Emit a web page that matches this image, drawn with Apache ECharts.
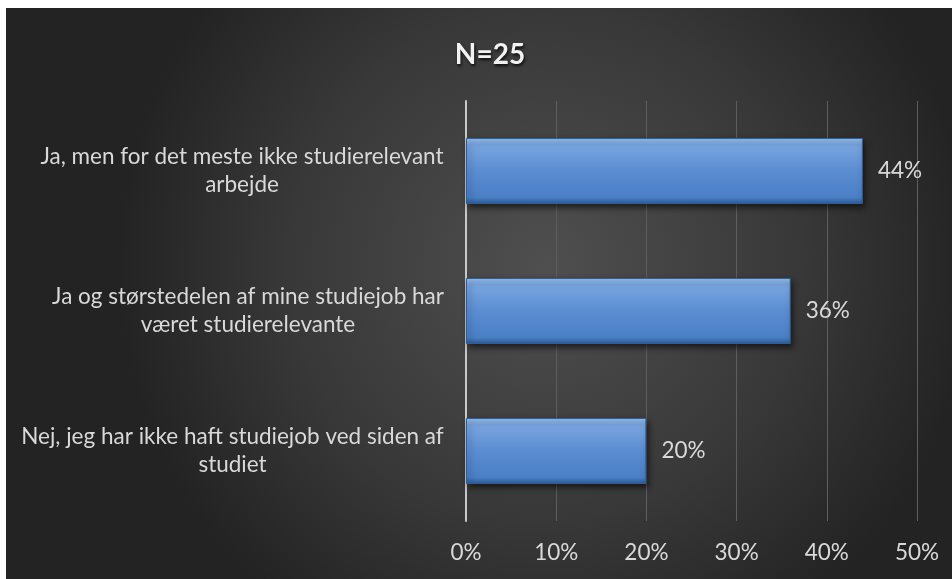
<!DOCTYPE html>
<html lang="da">
<head>
    <meta charset="UTF-8">
    <title>N=25</title>
    <script src="https://cdn.jsdelivr.net/npm/echarts@6/dist/echarts.min.js"></script>
    <style>
        html, body { margin: 0; padding: 0; background: #ffffff; }
        #main { position: absolute; left: 6px; top: 8px; width: 946px; height: 571px; }
    </style>
</head>
<body>
<div id="main"></div>
<script>
    // data, top to bottom as in the picture
    var categories = [
        'Ja, men for det meste ikke studierelevant\narbejde',
        'Ja og størstedelen af mine studiejob har\nværet studierelevante',
        'Nej, jeg har ikke haft studiejob ved siden af\nstudiet'
    ];
    var values = [44, 36, 20];
    var xTicks = [0, 10, 20, 30, 40, 50];

    var fontName = 'Lato';
    var fontSize = 22.5;

    // measure longest line so every label is centred inside its own block
    var ctx = document.createElement('canvas').getContext('2d');
    ctx.font = fontSize + 'px ' + fontName;
    var rich = {};
    categories.forEach(function (c, i) {
        var w = 0;
        c.split('\n').forEach(function (l) { w = Math.max(w, ctx.measureText(l).width); });
        rich['c' + i] = { width: Math.ceil(w), align: 'center', fontSize: fontSize, fontFamily: fontName, color: '#d9d9d9', lineHeight: 28 };
    });

    var myChart = echarts.init(document.getElementById('main'));
    var option = {
        backgroundColor: {
            type: 'radial', x: 0.57, y: 0.45, r: 0.75,
            colorStops: [
                {offset: 0, color: '#4f4f4f'},
                {offset: 0.6, color: '#383838'},
                {offset: 1, color: '#232323'}
            ]
        },
        animation: false,
        title: {
            text: 'N=25',
            left: 479, top: 28, textAlign: 'center',
            textStyle: {
                color: '#f2f2f2', fontSize: 28, fontWeight: 'bold', fontFamily: fontName,
                textShadowColor: 'rgba(0,0,0,0.8)', textShadowBlur: 3, textShadowOffsetX: 1, textShadowOffsetY: 2
            }
        },
        grid: {left: 460, right: 35, top: 93, bottom: 58},
        xAxis: {
            type: 'value', min: xTicks[0], max: xTicks[xTicks.length - 1], interval: 10,
            axisLine: {show: false},
            axisTick: {show: false},
            splitLine: {lineStyle: {color: '#5e5e5e', width: 1}},
            axisLabel: {
                color: '#d9d9d9', fontSize: fontSize, fontFamily: fontName, margin: 20,
                formatter: function (v) { return v + '%'; }
            }
        },
        yAxis: {
            type: 'category', inverse: true, data: categories,
            axisLine: {lineStyle: {color: '#c8c8c8', width: 2}},
            axisTick: {show: false},
            axisLabel: {
                margin: 22,
                formatter: function (v, i) {
                    return v.split('\n').map(function (l) { return '{c' + i + '|' + l + '}'; }).join('\n');
                },
                rich: rich
            }
        },
        series: [{
            type: 'bar',
            data: values,
            barWidth: 66,
            itemStyle: {
                color: {
                    type: 'linear', x: 0, y: 0, x2: 0, y2: 1,
                    colorStops: [
                        {offset: 0, color: '#9cc3f0'},
                        {offset: 0.1, color: '#79a6e0'},
                        {offset: 0.5, color: '#5b8dd2'},
                        {offset: 0.9, color: '#4a7fc6'},
                        {offset: 1, color: '#2d5b95'}
                    ]
                },
                borderColor: '#2f5d98', borderWidth: 1,
                shadowColor: 'rgba(0,0,0,0.6)', shadowBlur: 6, shadowOffsetX: 2, shadowOffsetY: 3
            },
            label: {
                show: true, position: 'right', distance: 15,
                color: '#d9d9d9', fontSize: fontSize, fontFamily: fontName,
                formatter: '{c}%'
            }
        }]
    };
    myChart.setOption(option);
</script>
</body>
</html>
